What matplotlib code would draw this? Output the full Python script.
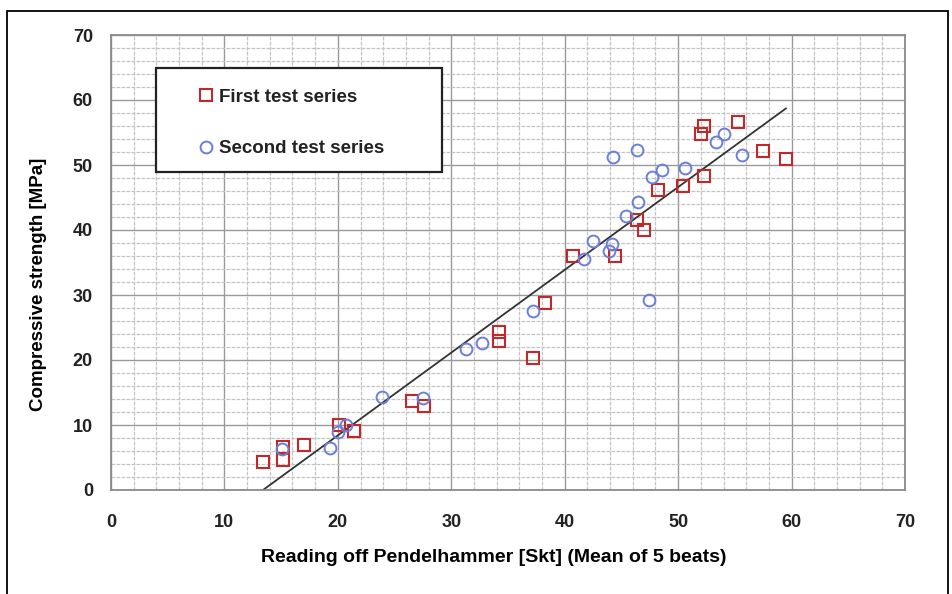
import matplotlib.pyplot as plt
from matplotlib.patches import Rectangle
from matplotlib.ticker import MultipleLocator

# values
first_x = [13.4, 15.2, 15.2, 17.0, 20.1, 21.4, 26.5, 27.6, 34.2, 34.2, 37.2, 38.3,
           40.7, 44.4, 46.4, 47.0, 48.2, 50.4, 52.3, 52.0, 52.3, 55.3, 57.5, 59.5]
first_y = [4.3, 6.6, 4.6, 6.9, 10.0, 9.1, 13.7, 12.9, 24.3, 22.9, 20.3, 28.8,
           36.0, 36.0, 41.5, 40.0, 46.2, 46.8, 48.3, 54.8, 56.0, 56.6, 52.2, 50.9]

second_x = [15.1, 19.3, 20.0, 20.7, 23.9, 27.5, 31.3, 32.7, 37.2, 41.7, 42.5, 43.9,
            44.2, 45.4, 46.5, 47.4, 44.3, 46.4, 47.7, 48.6, 50.6, 53.3, 54.0, 55.6]
second_y = [6.3, 6.5, 8.9, 10.0, 14.3, 14.2, 21.7, 22.6, 27.5, 35.5, 38.3, 36.8,
            37.8, 42.2, 44.3, 29.2, 51.2, 52.3, 48.2, 49.2, 49.5, 53.5, 54.8, 51.5]

# regression line end points
trend_x = [13.4, 59.5]
trend_y = [0.0, 58.7]

plt.rcParams['font.family'] = ['Liberation Sans', 'DejaVu Sans']
plt.rcParams['font.weight'] = 'bold'
plt.rcParams['text.color'] = '#222222'

fig = plt.figure(figsize=(9.53, 5.94), dpi=100)
ax = fig.add_axes([111 / 953, 1 - 490 / 594, 794 / 953, 455 / 594])

# outer frame of the picture
fig.patches.append(Rectangle((7 / 953, -0.05), 941 / 953, 1.05 - 11 / 594,
                             transform=fig.transFigure, fill=False,
                             edgecolor='black', linewidth=1.3))

ax.set_xlim(0, 70)
ax.set_ylim(0, 70)
ax.xaxis.set_major_locator(MultipleLocator(10))
ax.yaxis.set_major_locator(MultipleLocator(10))
ax.xaxis.set_minor_locator(MultipleLocator(2))
ax.yaxis.set_minor_locator(MultipleLocator(2))
ax.grid(which='major', color='#9a9a9a', linewidth=1.0, linestyle='-')
ax.grid(which='minor', color='#c4c4c4', linewidth=0.9, linestyle=(0, (3, 1)))
ax.set_axisbelow(True)
ax.tick_params(which='both', length=0, labelcolor='#222222')
ax.tick_params(axis='x', pad=17, labelsize=13)
ax.tick_params(axis='y', pad=13, labelsize=13)
for s in ax.spines.values():
    s.set_color('#8a8a8a')
    s.set_linewidth(1.3)

ax.plot(trend_x, trend_y, color='#333333', linewidth=1.3, zorder=2)
ax.plot(first_x, first_y, linestyle='none', marker='s', markersize=8.5,
        markerfacecolor='none', markeredgecolor='#c0282a', markeredgewidth=1.5,
        label='First test series', zorder=3)
ax.plot(second_x, second_y, linestyle='none', marker='o', markersize=8.5,
        markerfacecolor='none', markeredgecolor='#6b7fd8', markeredgewidth=1.4,
        label='Second test series', zorder=3)

ax.set_xlabel('Reading off Pendelhammer [Skt] (Mean of 5 beats)', fontsize=14,
              fontweight='bold')
ax.set_ylabel('Compressive strength [MPa]', fontsize=13.5, fontweight='bold')
ax.xaxis.set_label_coords(0.482, -0.130)
ax.yaxis.set_label_coords(-0.081, 0.453)

# legend box
ax.add_patch(Rectangle((45 / 794, 318 / 455), 286 / 794, 104 / 455,
                       transform=ax.transAxes, facecolor='white',
                       edgecolor='#222222', linewidth=1.6, zorder=4))
leg = ax.legend(loc='center', bbox_to_anchor=((45 + 135) / 794, (318 + 49) / 455),
                frameon=False, fontsize=13.5, handlelength=0.8, handletextpad=0.3,
                labelspacing=1.85)
leg.set_zorder(5)

plt.savefig('out.png', dpi=100)
